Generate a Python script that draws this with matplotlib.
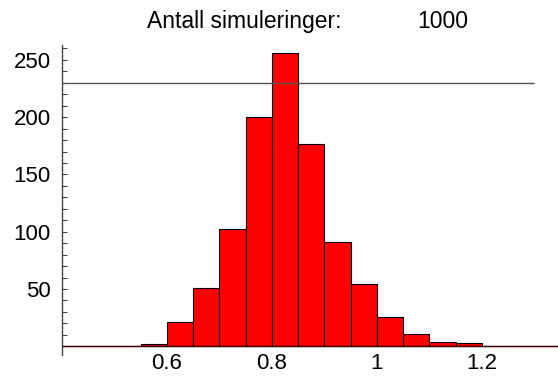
import numpy as np
import matplotlib
matplotlib.use("Agg")
import matplotlib.pyplot as plt
from matplotlib.ticker import FixedLocator

plt.rcParams['font.family'] = ['Liberation Sans', 'DejaVu Sans']

# histogram data, 1000 simulations, bins of width 0.05
bin_left = [0.40, 0.45, 0.50, 0.55, 0.60, 0.65, 0.70, 0.75, 0.80, 0.85,
            0.90, 0.95, 1.00, 1.05, 1.10, 1.15, 1.20, 1.25, 1.30]
counts = [0, 0, 0, 2, 21, 51, 102, 200, 256, 177,
          91, 54, 26, 11, 4, 3, 0, 0, 0]
bin_width = 0.05
ref_level = 230
n_sims = 1000
xtick_vals = [0.6, 0.8, 1.0, 1.2]
xtick_labels = ["0.6", "0.8", "1", "1.2"]
ytick_vals = [50, 100, 150, 200, 250]

fig = plt.figure(figsize=(5.58, 3.79), dpi=100)
ax = fig.add_axes([62 / 558, (379 - 346.3) / 379, 1 - 62 / 558, 301.3 / 379])

bars = ax.bar(bin_left, counts, width=bin_width, align='edge', color='#ff0000',
              edgecolor='black', linewidth=0.8, zorder=2)
for b in bars:
    b.set_clip_on(False)
# empty bins show up as a flat line on the baseline
ax.hlines(0, bin_left[0], bin_left[-1] + bin_width, color='#3a0000',
          linewidth=1.0, zorder=3, clip_on=False)
ax.hlines(ref_level, 0.4, 1.3, color='#555555', linewidth=1.0, zorder=3)

ax.set_xlim(0.4, 1.345)
ax.set_ylim(0, 263)

for s in ['top', 'right', 'bottom']:
    ax.spines[s].set_visible(False)
ax.spines['left'].set_color('#444444')
ax.spines['left'].set_linewidth(1.0)
ax.spines['left'].set_bounds(-7.5, 263)
ax.spines['left'].set_clip_on(False)

ax.set_xticks(xtick_vals)
ax.set_xticklabels(xtick_labels)
ax.set_yticks(ytick_vals)
ax.yaxis.set_minor_locator(FixedLocator(np.arange(10, 261, 10)))
ax.tick_params(axis='x', length=0, pad=5, labelsize=16)
ax.tick_params(axis='y', which='both', direction='in', length=3.5,
               width=0.8, color='#444444', pad=8, labelsize=16)

fig.text(147 / 558, (379 - 28) / 379, "Antall simuleringer:", fontsize=16.5)
fig.text(417 / 558, (379 - 28) / 379, str(n_sims), fontsize=16.5)

fig.savefig("out.png", dpi=100)
